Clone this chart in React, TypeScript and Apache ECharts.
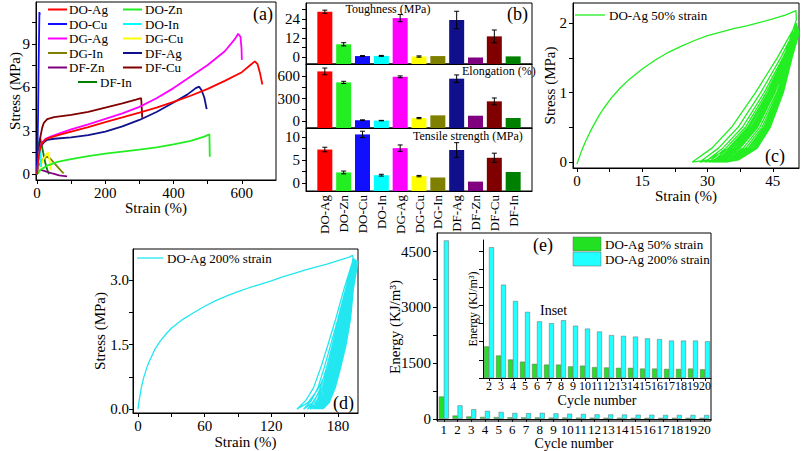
import React, { useEffect, useRef } from 'react';
import * as echarts from 'echarts';

const F = '"Liberation Serif", "Times New Roman", Times, serif';

// ---------- shared sample names / colours ----------
const SAMPLES = ['DO-Ag', 'DO-Zn', 'DO-Cu', 'DO-In', 'DG-Ag', 'DG-Cu', 'DG-In', 'DF-Ag', 'DF-Zn', 'DF-Cu', 'DF-In'];
const SAMPLE_COLORS = ['#ff0000', '#22ee22', '#1010ff', '#00ffff', '#ff00ff', '#ffff00', '#808000', '#10108c', '#800080', '#800000', '#008000'];

// ---------- (a) stress-strain curves [strain %, stress MPa] ----------
const CURVE_DO_AG = [[0,0],[3,0.8],[6,1.4],[10,1.85],[15,2.15],[25,2.4],[40,2.55],[70,2.75],[100,2.95],[150,3.25],[200,3.6],[250,3.92],[300,4.25],[350,4.6],[400,5.0],[450,5.42],[500,5.9],[550,6.45],[600,7.05],[625,7.55],[638,7.8],[646,7.6],[653,7.0],[660,6.2]];
const CURVE_DO_ZN = [[0,0],[10,0.3],[30,0.6],[60,0.85],[100,1.05],[150,1.25],[200,1.42],[250,1.56],[300,1.7],[350,1.86],[400,2.06],[450,2.3],[490,2.6],[505,2.75],[506,1.2]];
const CURVE_DO_CU = [[0,0],[3,4],[5,8],[7,11.2],[8,11.0]];
const CURVE_DO_IN = [[0,0],[4,1.0],[8,1.7],[10,1.75],[12,0.5]];
const CURVE_DG_AG = [[0,0],[3,0.8],[6,1.45],[10,1.9],[15,2.2],[25,2.45],[40,2.6],[70,2.85],[100,3.1],[150,3.45],[200,3.82],[250,4.2],[300,4.65],[350,5.25],[400,5.95],[450,6.75],[500,7.55],[550,8.5],[580,9.35],[589,9.7],[596,9.5],[599,8.7],[600,7.9]];
const CURVE_DG_CU = [[0,0],[10,0.6],[20,1.1],[30,1.45],[33,1.5],[36,1.1],[40,0.3]];
const CURVE_DG_IN = [[0,0],[10,0.8],[20,1.1],[30,1.2],[40,1.05],[55,0.65],[70,0.25],[78,0.05]];
const CURVE_DF_AG = [[0,0],[3,0.9],[6,1.5],[10,1.9],[20,2.2],[30,2.38],[50,2.45],[100,2.55],[150,2.7],[200,2.95],[250,3.3],[300,3.75],[350,4.3],[400,4.95],[440,5.5],[465,5.95],[475,6.05],[482,5.8],[490,5.3],[497,4.5]];
const CURVE_DF_ZN = [[0,0],[5,0.25],[12,0.3],[25,0.2],[45,0.05],[65,-0.08],[88,-0.15]];
const CURVE_DF_CU = [[0,0],[5,1.5],[10,2.6],[15,3.2],[20,3.55],[30,3.8],[50,3.95],[100,4.1],[150,4.3],[200,4.6],[250,4.9],[290,5.15],[305,5.25],[307,4.5],[308,3.9]];
const CURVE_DF_IN = [[0,0],[3,1.2],[6,2.2],[9,2.5],[12,2.2],[18,1.5],[25,0.7],[30,0.3],[35,0.0]];
const CURVES = [CURVE_DO_AG, CURVE_DO_ZN, CURVE_DO_CU, CURVE_DO_IN, CURVE_DG_AG, CURVE_DG_CU, CURVE_DG_IN, CURVE_DF_AG, CURVE_DF_ZN, CURVE_DF_CU, CURVE_DF_IN];

// ---------- (b) bar values and error bars ----------
const TOUGHNESS = [28.5, 8.0, 0.6, 0.7, 24.5, 0.3, 0.6, 23.3, -0.3, 13.0, 0.4];
const TOUGHNESS_ERR = [1.0, 1.0, 0.3, 0.3, 2.3, 0.4, 0, 5.5, 0, 4.0, 0];
const ELONGATION = [662, 515, 10, 5, 590, 38, 75, 565, 70, 262, 40];
const ELONGATION_ERR = [45, 15, 5, 3, 12, 8, 0, 50, 0, 45, 0];
const TENSILE = [7.3, 2.3, 10.6, 1.7, 7.6, 1.5, 1.2, 7.2, 0.3, 5.5, 2.4];
const TENSILE_ERR = [0.5, 0.3, 0.7, 0.2, 0.7, 0.15, 0, 1.6, 0, 1.0, 0];

// ---------- (c) DO-Ag 50% strain cyclic test ----------
const C50_LOADING = [[0,-0.03],[1,0.15],[2,0.3],[3,0.43],[4,0.55],[5,0.66],[6,0.76],[8,0.93],[10,1.07],[12,1.19],[15,1.34],[18,1.47],[21,1.58],[24,1.67],[27,1.75],[30,1.82],[33,1.87],[36,1.92],[39,1.96],[42,2.01],[45,2.06],[48,2.12],[50.3,2.18]];
const C50_PEAKS = [[50.4,2.05],[50.5,2.0],[50.6,1.97],[50.7,1.95],[50.8,1.93],[50.9,1.91],[50.9,1.9],[51,1.89],[51,1.88],[51,1.87],[51,1.86],[51,1.85]];
const C50_UNLOAD_LEVELS = [1.5, 1.0, 0.5, 0.2, 0.03, 0];
const C50_UNLOAD_STRAIN = [
  [47.5,44.2,39.5,35.0,30.0,26.5],[48.0,45.0,40.8,36.5,31.5,28.2],[48.3,45.5,41.5,37.5,32.5,29.4],[48.5,45.9,42.0,38.2,33.3,30.3],
  [48.7,46.2,42.5,38.8,34.0,31.0],[48.8,46.4,42.9,39.3,34.6,31.6],[48.9,46.6,43.2,39.7,35.1,32.1],[49.0,46.8,43.5,40.1,35.5,32.6],
  [49.1,47.0,43.8,40.5,35.9,33.0],[49.2,47.1,44.0,40.8,36.3,33.4],[49.3,47.3,44.2,41.1,36.7,33.8],[49.4,47.4,44.4,41.4,37.1,34.2],
];
const C50_RELOAD_LEVELS = [0.2, 0.5, 1.0, 1.5];
const C50_RELOAD_STRAIN = [
  [31.0,35.5,41.0,46.0],[32.5,37.0,42.2,46.8],[33.5,38.0,43.0,47.3],[34.2,38.7,43.5,47.6],[34.8,39.2,43.9,47.8],[35.3,39.6,44.2,48.0],
  [35.7,40.0,44.5,48.2],[36.1,40.3,44.8,48.4],[36.5,40.6,45.0,48.5],[36.8,40.9,45.2,48.6],[37.1,41.2,45.4,48.7],
];

// ---------- (d) DO-Ag 200% strain cyclic test ----------
const C200_LOADING = [[0,0],[1,0.2],[3,0.5],[5,0.72],[8,0.97],[10,1.1],[15,1.38],[20,1.58],[25,1.74],[30,1.88],[40,2.08],[50,2.24],[60,2.39],[70,2.52],[80,2.63],[90,2.73],[100,2.82],[110,2.9],[120,2.98],[130,3.07],[140,3.15],[150,3.23],[160,3.3],[170,3.37],[180,3.45],[190,3.53],[193.3,3.57]];
const C200_PEAKS = [[193.5,3.52],[194,3.5],[194.5,3.5],[195,3.49],[195.5,3.48],[196,3.47],[196.4,3.46],[196.8,3.45],[197.2,3.45],[197.5,3.44],[197.8,3.44],[198,3.44]];
const C200_UNLOAD_LEVELS = [2.8, 2.1, 1.5, 1.0, 0.5, 0.15, 0];
const C200_UNLOAD_STRAIN = [
  [190,185.5,179,172,163,153,143],[190.5,186.5,180.5,174,166,157,149],[191,187.2,181.5,175.5,168,160,152.5],
  [191.4,187.8,182.5,176.8,169.5,162,155],[191.8,188.4,183.3,177.8,171,163.7,157],[192.1,188.9,184,178.7,172.2,165.2,158.8],
  [192.4,189.4,184.7,179.5,173.3,166.6,160.4],[192.7,189.8,185.3,180.2,174.3,167.8,161.8],[193,190.2,185.9,180.9,175.2,169,163.1],
  [193.3,190.6,186.4,181.6,176.1,170.1,164.3],[193.6,191,186.9,182.2,176.9,171.1,165.4],[193.9,191.3,187.3,182.7,177.6,172,166.4],
];
const C200_RELOAD_LEVELS = [0.2, 0.5, 1.0, 1.5, 2.1, 2.8];
const C200_RELOAD_STRAIN = [
  [151,158,165,171,178,185.5],[156,162,168,173.5,180,187],[159,164.5,170,175,181,187.8],[161,166,171.3,176.2,182,188.5],
  [162.7,167.3,172.4,177.2,182.8,189.1],[164.2,168.5,173.4,178.1,183.5,189.6],[165.6,169.7,174.3,178.9,184.2,190.1],
  [166.8,170.8,175.2,179.6,184.8,190.5],[167.9,171.8,176,180.3,185.4,190.9],[169,172.7,176.8,181,186,191.3],[170,173.6,177.6,181.6,186.5,191.7],
];

// ---------- (e) dissipated energy per cycle (KJ/m3) ----------
const CYCLE_LABELS = ['1','2','3','4','5','6','7','8','9','10','11','12','13','14','15','16','17','18','19','20'];
const ENERGY_50 = [600, 87, 62, 51, 45, 39, 37, 37, 32, 34, 30, 29, 28, 28, 26, 26, 25, 25, 26, 24];
const ENERGY_200 = [4800, 360, 257, 212, 182, 156, 151, 159, 144, 136, 128, 118, 116, 114, 109, 107, 103, 103, 103, 101];

// ---------- tick labels and tick marks (major + minor) ----------
const A_X_LABELS = [0, 200, 400, 600];
const A_X_TICKS = [0, 100, 200, 300, 400, 500, 600];
const A_Y_LABELS = [0, 3, 6, 9];
const A_Y_TICKS = [0, 1.5, 3, 4.5, 6, 7.5, 9, 10.5];
const B_TOUGH_LABELS = [0, 12, 24];
const B_TOUGH_TICKS = [0, 6, 12, 18, 24, 30];
const B_ELONG_LABELS = [0, 300, 600];
const B_ELONG_TICKS = [0, 150, 300, 450, 600];
const B_TENS_LABELS = [0, 5, 10];
const B_TENS_TICKS = [0, 2.5, 5, 7.5, 10];
const C_X_LABELS = [0, 15, 30, 45];
const C_X_TICKS = [0, 7.5, 15, 22.5, 30, 37.5, 45];
const C_Y_LABELS = [0, 1, 2];
const C_Y_TICKS = [0, 0.5, 1, 1.5, 2];
const D_X_LABELS = [0, 60, 120, 180];
const D_X_TICKS = [0, 30, 60, 90, 120, 150, 180];
const D_Y_LABELS = [0, 1.5, 3.0];
const D_Y_TICKS = [0, 0.75, 1.5, 2.25, 3.0];
const E_Y_LABELS = [0, 1500, 3000, 4500];
const E_Y_TICKS = [0, 750, 1500, 2250, 3000, 3750, 4500];
const INSET_Y_TICKS = [0, 50, 100, 150, 200, 250, 300, 350];

function buildCycles(loading: number[][], peaks: number[][], uLevels: number[], uStrain: number[][], rLevels: number[], rStrain: number[][]) {
  const pts: number[][] = loading.map((p) => [p[0], p[1]]);
  peaks.forEach((pk, i) => {
    pts.push([pk[0], pk[1]]);
    uStrain[i].forEach((s, j) => pts.push([s, uLevels[j]]));
    if (rStrain[i]) rStrain[i].forEach((s, j) => pts.push([s, rLevels[j]]));
  });
  return pts;
}

function vAxis(gi: number, min: number, max: number, labels: number[] | null, ticks: number[] | null, o: any = {}) {
  return {
    type: 'value', gridIndex: gi, min, max,
    axisLine: { show: true, onZero: false, lineStyle: { color: '#000', width: 1 } },
    axisTick: { show: !!ticks, length: 4, customValues: ticks || undefined, lineStyle: { color: '#000', width: 1 } },
    axisLabel: { show: !!labels, customValues: labels || undefined, color: '#000', fontFamily: F, fontSize: o.fontSize || 15, margin: o.margin ?? 6, formatter: o.formatter || ((v: number) => String(v)) },
    splitLine: { show: false },
    name: o.name, nameLocation: 'middle', nameGap: o.nameGap,
    nameTextStyle: { color: '#000', fontFamily: F, fontSize: o.nameSize || 15 },
    nameMoveOverlap: false,
  };
}

function barSeries(values: number[], errs: number[], gi: number, yMin: number) {
  return {
    type: 'custom', xAxisIndex: gi, yAxisIndex: gi, clip: false,
    encode: { x: 0, y: 1 },
    data: values.map((v, i) => [i, v, errs[i]]),
    renderItem: (params: any, api: any) => {
      const i = api.value(0), v = api.value(1), e = api.value(2);
      const top = api.coord([i, v]);
      const base = api.coord([i, yMin]);
      const children: any[] = [{
        type: 'rect',
        shape: { x: top[0] - 7.5, y: Math.min(top[1], base[1]), width: 15, height: Math.abs(base[1] - top[1]) },
        style: { fill: SAMPLE_COLORS[params.dataIndex] },
      }];
      if (e > 0) {
        const hi = api.coord([i, v + e]);
        const lo = api.coord([i, v - e]);
        const st = { stroke: '#000', lineWidth: 1 };
        children.push({ type: 'line', shape: { x1: hi[0], y1: hi[1], x2: lo[0], y2: lo[1] }, style: st });
        children.push({ type: 'line', shape: { x1: hi[0] - 2.5, y1: hi[1], x2: hi[0] + 2.5, y2: hi[1] }, style: st });
        children.push({ type: 'line', shape: { x1: lo[0] - 2.5, y1: lo[1], x2: lo[0] + 2.5, y2: lo[1] }, style: st });
      }
      return { type: 'group', children };
    },
  };
}

function txt(text: string, x: number, y: number, size: number, align = 'left', extra: any = {}) {
  return {
    type: 'text', x, y, z: 100,
    style: { text, font: `${size}px ${F}`, fill: '#000', align, verticalAlign: 'middle', textAlign: align, textVerticalAlign: 'middle', ...extra },
  };
}
function seg(x1: number, y1: number, x2: number, y2: number, color: string, w = 2) {
  return { type: 'line', z: 100, shape: { x1, y1, x2, y2 }, style: { stroke: color, lineWidth: w } };
}

export default function App() {
  const ref = useRef<HTMLDivElement>(null);
  useEffect(() => {
    if (!ref.current) return;
    const chart = echarts.init(ref.current, undefined, { renderer: 'svg' });
    const gridBase = { show: true, borderColor: '#000', borderWidth: 1, backgroundColor: 'transparent', containLabel: false, outerBoundsMode: 'none' };
    const grids = [
      { ...gridBase, left: 36, top: 2, width: 240, height: 178 },   // (a)
      { ...gridBase, left: 306, top: 3, width: 226, height: 61 },   // (b) toughness
      { ...gridBase, left: 306, top: 64, width: 226, height: 64 },  // (b) elongation
      { ...gridBase, left: 306, top: 128, width: 226, height: 63 }, // (b) tensile
      { ...gridBase, left: 573, top: 3, width: 226, height: 165 },  // (c)
      { ...gridBase, left: 133, top: 249, width: 225, height: 164 },// (d)
      { ...gridBase, left: 437, top: 233, width: 274, height: 188 },// (e)
      { ...gridBase, show: false, left: 483, top: 240, width: 228, height: 138 }, // (e) inset
    ];

    const bX = (gi: number, withLabels: boolean) => {
      const ax: any = vAxis(gi, -1, 11, null, null);
      if (withLabels) {
        ax.axisLabel = { show: true, customValues: SAMPLES.map((_, i) => i), formatter: (v: number) => SAMPLES[Math.round(v)] || '', rotate: 90, color: '#000', fontFamily: F, fontSize: 13, margin: 4 };
      }
      return ax;
    };

    const catAxis = (gi: number, data: string[], o: any) => ({
      type: 'category', gridIndex: gi, data,
      axisLine: { show: true, lineStyle: { color: '#000', width: 1 } },
      axisTick: { show: true, alignWithLabel: true, length: 3, lineStyle: { color: '#000' } },
      axisLabel: { interval: 0, color: '#000', fontFamily: F, fontSize: o.labelSize || 14, margin: o.margin ?? 3 },
      splitLine: { show: false },
      name: 'Cycle number', nameLocation: 'middle', nameGap: o.nameGap,
      nameTextStyle: { color: '#000', fontFamily: F, fontSize: o.nameSize || 15 },
      nameMoveOverlap: false,
    });

    const xAxes = [
      vAxis(0, -3, 700, A_X_LABELS, A_X_TICKS, { name: 'Strain (%)', nameGap: 20, margin: 5 }),
      bX(1, false), bX(2, false), bX(3, true),
      vAxis(4, -0.9, 51, C_X_LABELS, C_X_TICKS, { name: 'Strain (%)', nameGap: 20, margin: 5 }),
      vAxis(5, -4.5, 198, D_X_LABELS, D_X_TICKS, { name: 'Strain (%)', nameGap: 21, margin: 5 }),
      catAxis(6, CYCLE_LABELS, { nameGap: 15, margin: 2, labelSize: 13, nameSize: 14 }),
      catAxis(7, CYCLE_LABELS.slice(1), { nameGap: 15, margin: 2, nameSize: 14, labelSize: 12 }),
    ];
    const yAxes = [
      vAxis(0, -0.4, 11.9, A_Y_LABELS, A_Y_TICKS, { name: 'Stress (MPa)', nameGap: 14 }),
      vAxis(1, -4.4, 34, B_TOUGH_LABELS, B_TOUGH_TICKS),
      vAxis(2, -94, 761, B_ELONG_LABELS, B_ELONG_TICKS),
      vAxis(3, -1.75, 12, B_TENS_LABELS, B_TENS_TICKS),
      vAxis(4, -0.086, 2.29, C_Y_LABELS, C_Y_TICKS, { name: 'Stress (MPa)', nameGap: 16 }),
      vAxis(5, -0.09, 3.72, D_Y_LABELS, D_Y_TICKS, { name: 'Stress (MPa)', nameGap: 26, margin: 4, formatter: (v: number) => v.toFixed(1) }),
      vAxis(6, -60, 5000, E_Y_LABELS, E_Y_TICKS, { name: 'Energy (KJ/m³)', nameGap: 35 }),
      vAxis(7, 0, 380, null, INSET_Y_TICKS, { name: 'Energy (KJ/m³)', nameGap: 4, nameSize: 12 }),
    ];

    const series: any[] = [];
    CURVES.forEach((c, i) => {
      series.push({
        type: 'line', name: SAMPLES[i], xAxisIndex: 0, yAxisIndex: 0, data: c, showSymbol: false, symbol: 'none',
        lineStyle: { color: SAMPLE_COLORS[i], width: 1.8 }, itemStyle: { color: SAMPLE_COLORS[i] }, z: 2 + (CURVES.length - i) * 0.01,
      });
    });
    series.push(barSeries(TOUGHNESS, TOUGHNESS_ERR, 1, -4.4));
    series.push(barSeries(ELONGATION, ELONGATION_ERR, 2, -94));
    series.push(barSeries(TENSILE, TENSILE_ERR, 3, -1.75));
    series.push({
      type: 'line', name: 'DO-Ag 50% strain', xAxisIndex: 4, yAxisIndex: 4, showSymbol: false, symbol: 'none',
      data: buildCycles(C50_LOADING, C50_PEAKS, C50_UNLOAD_LEVELS, C50_UNLOAD_STRAIN, C50_RELOAD_LEVELS, C50_RELOAD_STRAIN),
      lineStyle: { color: '#22ee22', width: 1.3 },
    });
    series.push({
      type: 'line', name: 'DO-Ag 200% strain', xAxisIndex: 5, yAxisIndex: 5, showSymbol: false, symbol: 'none',
      data: buildCycles(C200_LOADING, C200_PEAKS, C200_UNLOAD_LEVELS, C200_UNLOAD_STRAIN, C200_RELOAD_LEVELS, C200_RELOAD_STRAIN),
      lineStyle: { color: '#22e6f0', width: 1.3 },
    });
    const barStyle = (c: string) => ({ color: c, borderColor: '#666', borderWidth: 0.5 });
    series.push({ type: 'bar', name: 'DO-Ag 50% strain', xAxisIndex: 6, yAxisIndex: 6, data: ENERGY_50, barWidth: 5, barGap: '0%', itemStyle: barStyle('#22e022') });
    series.push({ type: 'bar', name: 'DO-Ag 200% strain', xAxisIndex: 6, yAxisIndex: 6, data: ENERGY_200, barWidth: 5, barGap: '0%', itemStyle: barStyle('#22ffff') });
    series.push({ type: 'bar', name: 'DO-Ag 50% strain (inset)', xAxisIndex: 7, yAxisIndex: 7, data: ENERGY_50.slice(1), barWidth: 5, barGap: '0%', itemStyle: barStyle('#22e022') });
    series.push({ type: 'bar', name: 'DO-Ag 200% strain (inset)', xAxisIndex: 7, yAxisIndex: 7, data: ENERGY_200.slice(1), barWidth: 5, barGap: '0%', itemStyle: barStyle('#22ffff') });

    // legends and annotations
    const graphic: any[] = [];
    const rows = [9.5, 24, 38.5, 53, 67.5];
    SAMPLES.forEach((s, i) => {
      let lx: number, tx: number, y: number;
      if (i === 10) { lx = 78; tx = 100; y = 82; }
      else if (i % 2 === 0) { lx = 48; tx = 69; y = rows[i / 2]; }
      else { lx = 123; tx = 145; y = rows[(i - 1) / 2]; }
      graphic.push(seg(lx, y, lx + 19, y, SAMPLE_COLORS[i], 2));
      graphic.push(txt(s, tx, y, 13, 'left', { lineHeight: 13 }));
    });
    graphic.push(txt('(a)', 253, 14, 18));
    graphic.push(txt('(b)', 507, 14, 18));
    graphic.push(txt('(c)', 765, 156, 18));
    graphic.push(txt('(d)', 333, 403, 18));
    graphic.push(txt('(e)', 533, 245, 18));
    graphic.push(txt('Toughness (MPa)', 388, 9, 12, 'center'));
    graphic.push(txt('Elongation (%)', 462, 71, 12));
    graphic.push(txt('Tensile strength (MPa)', 413, 136, 12));
    graphic.push(seg(575, 15, 605, 15, '#22ee22', 1.3));
    graphic.push(txt('DO-Ag 50% strain', 609, 15, 13));
    graphic.push(seg(137, 258, 163, 258, '#22e6f0', 1.3));
    graphic.push(txt('DO-Ag 200% strain', 167, 258, 13));
    graphic.push({ type: 'rect', z: 100, shape: { x: 573, y: 237, width: 28, height: 14 }, style: { fill: '#22e022', stroke: '#666', lineWidth: 0.5 } });
    graphic.push({ type: 'rect', z: 100, shape: { x: 573, y: 252, width: 28, height: 14 }, style: { fill: '#22ffff', stroke: '#666', lineWidth: 0.5 } });
    graphic.push(txt('DO-Ag 50% strain', 605, 244, 13, 'left', { lineHeight: 14 }));
    graphic.push(txt('DO-Ag 200% strain', 605, 259, 13, 'left', { lineHeight: 14 }));
    graphic.push(txt('Inset', 540, 310, 14));

    chart.setOption({
      animation: false,
      backgroundColor: '#ffffff',
      textStyle: { fontFamily: F },
      grid: grids,
      xAxis: xAxes,
      yAxis: yAxes,
      series,
      graphic,
    });
    return () => chart.dispose();
  }, []);
  return <div ref={ref} style={{ position: 'fixed', left: 0, top: 0, width: 801, height: 451, background: '#fff' }} />;
}
